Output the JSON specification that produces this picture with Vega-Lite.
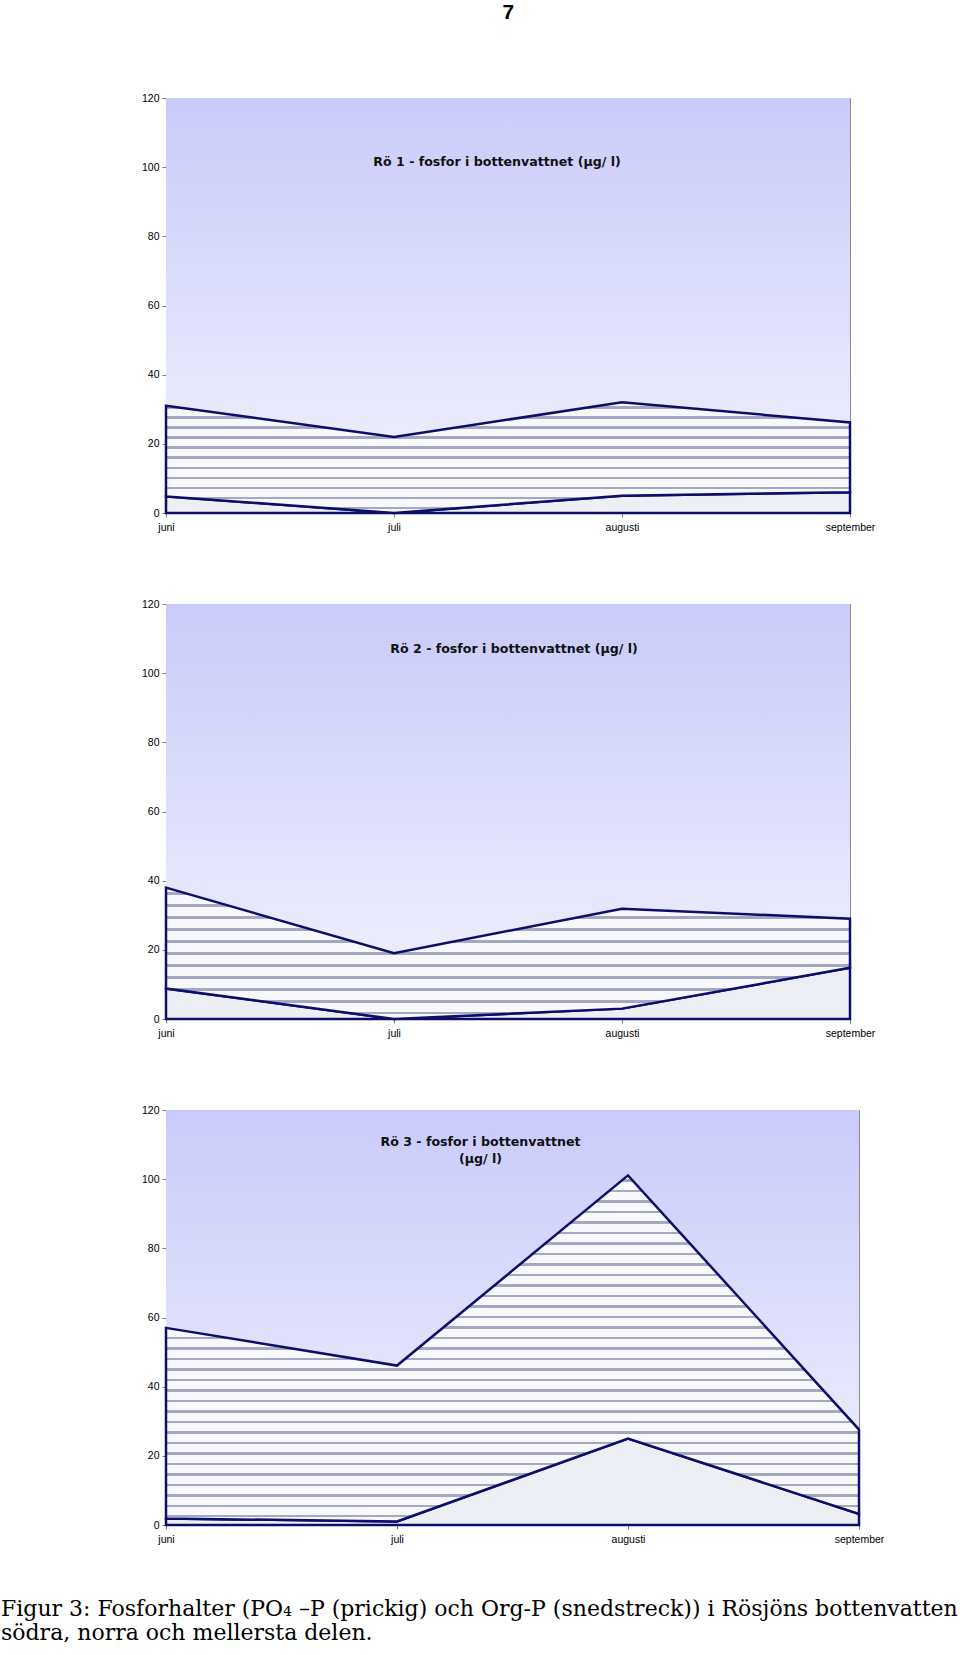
{
  "$schema": "https://vega.github.io/schema/vega-lite/v6.json",
  "padding": {"left": 0, "top": 1, "right": 0, "bottom": 0},
  "background": "white",
  "title": {"text": "7", "font": "Liberation Sans", "fontSize": 21, "fontWeight": "bold", "color": "#000000", "anchor": "middle", "offset": 70, "dx": 29},
  "datasets": {
    "ro1": [
      {"manad": "juni", "serie": "PO4-P", "halt": 4.8},
      {"manad": "juli", "serie": "PO4-P", "halt": 0},
      {"manad": "augusti", "serie": "PO4-P", "halt": 5.0},
      {"manad": "september", "serie": "PO4-P", "halt": 6.0},
      {"manad": "juni", "serie": "Org-P", "halt": 26.2},
      {"manad": "juli", "serie": "Org-P", "halt": 22.0},
      {"manad": "augusti", "serie": "Org-P", "halt": 27.0},
      {"manad": "september", "serie": "Org-P", "halt": 20.2}
    ],
    "ro2": [
      {"manad": "juni", "serie": "PO4-P", "halt": 8.8},
      {"manad": "juli", "serie": "PO4-P", "halt": 0},
      {"manad": "augusti", "serie": "PO4-P", "halt": 3.0},
      {"manad": "september", "serie": "PO4-P", "halt": 14.8},
      {"manad": "juni", "serie": "Org-P", "halt": 29.2},
      {"manad": "juli", "serie": "Org-P", "halt": 19.0},
      {"manad": "augusti", "serie": "Org-P", "halt": 28.9},
      {"manad": "september", "serie": "Org-P", "halt": 14.2}
    ],
    "ro3": [
      {"manad": "juni", "serie": "PO4-P", "halt": 1.9},
      {"manad": "juli", "serie": "PO4-P", "halt": 1.0},
      {"manad": "augusti", "serie": "PO4-P", "halt": 25.0},
      {"manad": "september", "serie": "PO4-P", "halt": 3.2},
      {"manad": "juni", "serie": "Org-P", "halt": 55.1},
      {"manad": "juli", "serie": "Org-P", "halt": 45.1},
      {"manad": "augusti", "serie": "Org-P", "halt": 76.1},
      {"manad": "september", "serie": "Org-P", "halt": 24.4}
    ]
  },
  "bounds": "flush",
  "spacing": 91,
  "vconcat": [
    {
      "width": 684,
      "height": 415,
      "layer": [
        {
          "data": {"values": [{}]},
          "mark": {"type": "rect", "fill": {"gradient": "linear", "x1": 0, "y1": 0, "x2": 0, "y2": 1, "stops": [{"offset": 0, "color": "#cacafb"}, {"offset": 1, "color": "#f3f3fc"}]}},
          "encoding": {}
        },
        {
          "data": {"name": "ro1"},
          "transform": [{"stack": "halt", "groupby": ["manad"], "sort": [{"field": "serie", "order": "descending"}], "as": ["lo", "hi"]}, {"filter": "datum.serie === 'PO4-P'"}],
          "mark": {"type": "area", "fill": "#eeeff5", "stroke": "#0d0d6b", "strokeWidth": 2.5, "strokeJoin": "miter"},
          "encoding": {
            "x": {"field": "manad", "type": "ordinal", "sort": ["juni", "juli", "augusti", "september"], "scale": {"type": "point", "padding": 0}, "axis": {"title": null, "labelAngle": 0}},
            "y": {"field": "hi", "type": "quantitative", "scale": {"domain": [0, 120], "nice": false}, "axis": {"title": null, "values": [0, 20, 40, 60, 80, 100, 120], "grid": false}},
            "y2": {"field": "lo"}
          }
        },
        {
          "data": {"name": "ro1"},
          "transform": [{"stack": "halt", "groupby": ["manad"], "sort": [{"field": "serie", "order": "descending"}], "as": ["lo", "hi"]}, {"filter": "datum.serie === 'Org-P'"}],
          "mark": {"type": "area", "stroke": "#0d0d6b", "strokeWidth": 2.5, "strokeJoin": "miter", "fill": {"gradient": "linear", "x1": 0, "y1": 0, "x2": 0, "y2": 1, "stops": [
            {"offset": 0, "color": "#f8f8fc"},
            {"offset": 0.0345, "color": "#f8f8fc"}, {"offset": 0.0345, "color": "#a6a8c2"}, {"offset": 0.0565, "color": "#a6a8c2"}, {"offset": 0.0565, "color": "#f8f8fc"},
            {"offset": 0.1254, "color": "#f8f8fc"}, {"offset": 0.1254, "color": "#a6a8c2"}, {"offset": 0.1474, "color": "#a6a8c2"}, {"offset": 0.1474, "color": "#f8f8fc"},
            {"offset": 0.2163, "color": "#f8f8fc"}, {"offset": 0.2163, "color": "#a6a8c2"}, {"offset": 0.2383, "color": "#a6a8c2"}, {"offset": 0.2383, "color": "#f8f8fc"},
            {"offset": 0.3072, "color": "#f8f8fc"}, {"offset": 0.3072, "color": "#a6a8c2"}, {"offset": 0.3292, "color": "#a6a8c2"}, {"offset": 0.3292, "color": "#f8f8fc"},
            {"offset": 0.3981, "color": "#f8f8fc"}, {"offset": 0.3981, "color": "#a6a8c2"}, {"offset": 0.4201, "color": "#a6a8c2"}, {"offset": 0.4201, "color": "#f8f8fc"},
            {"offset": 0.489, "color": "#f8f8fc"}, {"offset": 0.489, "color": "#a6a8c2"}, {"offset": 0.511, "color": "#a6a8c2"}, {"offset": 0.511, "color": "#f8f8fc"},
            {"offset": 0.5799, "color": "#f8f8fc"}, {"offset": 0.5799, "color": "#a6a8c2"}, {"offset": 0.6019, "color": "#a6a8c2"}, {"offset": 0.6019, "color": "#f8f8fc"},
            {"offset": 0.6708, "color": "#f8f8fc"}, {"offset": 0.6708, "color": "#a6a8c2"}, {"offset": 0.6928, "color": "#a6a8c2"}, {"offset": 0.6928, "color": "#f8f8fc"},
            {"offset": 0.7617, "color": "#f8f8fc"}, {"offset": 0.7617, "color": "#a6a8c2"}, {"offset": 0.7837, "color": "#a6a8c2"}, {"offset": 0.7837, "color": "#f8f8fc"},
            {"offset": 0.8526, "color": "#f8f8fc"}, {"offset": 0.8526, "color": "#a6a8c2"}, {"offset": 0.8746, "color": "#a6a8c2"}, {"offset": 0.8746, "color": "#f8f8fc"},
            {"offset": 0.9435, "color": "#f8f8fc"}, {"offset": 0.9435, "color": "#a6a8c2"}, {"offset": 0.9655, "color": "#a6a8c2"}, {"offset": 0.9655, "color": "#f8f8fc"},
            {"offset": 1, "color": "#f8f8fc"}]}},
          "encoding": {
            "x": {"field": "manad", "type": "ordinal", "sort": ["juni", "juli", "augusti", "september"], "scale": {"type": "point", "padding": 0}, "axis": {"title": null, "labelAngle": 0}},
            "y": {"field": "hi", "type": "quantitative", "scale": {"domain": [0, 120], "nice": false}, "axis": {"title": null, "values": [0, 20, 40, 60, 80, 100, 120], "grid": false}},
            "y2": {"field": "lo"}
          }
        },
        {
          "data": {"values": [{}]},
          "mark": {"type": "text", "font": "DejaVu Sans", "fontWeight": "bold", "fontSize": 12.6, "color": "#111111", "dx": -11, "baseline": "middle"},
          "encoding": {"y": {"datum": 101.6, "type": "quantitative"}, "text": {"value": "Rö 1 - fosfor i bottenvattnet (µg/ l)"}}
        }
      ]
    },
    {
      "width": 684,
      "height": 415,
      "layer": [
        {
          "data": {"values": [{}]},
          "mark": {"type": "rect", "fill": {"gradient": "linear", "x1": 0, "y1": 0, "x2": 0, "y2": 1, "stops": [{"offset": 0, "color": "#cacafb"}, {"offset": 1, "color": "#f3f3fc"}]}},
          "encoding": {}
        },
        {
          "data": {"name": "ro2"},
          "transform": [{"stack": "halt", "groupby": ["manad"], "sort": [{"field": "serie", "order": "descending"}], "as": ["lo", "hi"]}, {"filter": "datum.serie === 'PO4-P'"}],
          "mark": {"type": "area", "fill": "#eeeff5", "stroke": "#0d0d6b", "strokeWidth": 2.5, "strokeJoin": "miter"},
          "encoding": {
            "x": {"field": "manad", "type": "ordinal", "sort": ["juni", "juli", "augusti", "september"], "scale": {"type": "point", "padding": 0}, "axis": {"title": null, "labelAngle": 0}},
            "y": {"field": "hi", "type": "quantitative", "scale": {"domain": [0, 120], "nice": false}, "axis": {"title": null, "values": [0, 20, 40, 60, 80, 100, 120], "grid": false}},
            "y2": {"field": "lo"}
          }
        },
        {
          "data": {"name": "ro2"},
          "transform": [{"stack": "halt", "groupby": ["manad"], "sort": [{"field": "serie", "order": "descending"}], "as": ["lo", "hi"]}, {"filter": "datum.serie === 'Org-P'"}],
          "mark": {"type": "area", "stroke": "#0d0d6b", "strokeWidth": 2.5, "strokeJoin": "miter", "fill": {"gradient": "linear", "x1": 0, "y1": 0, "x2": 0, "y2": 1, "stops": [
            {"offset": 0, "color": "#f8f8fc"},
            {"offset": 0.0345, "color": "#f8f8fc"}, {"offset": 0.0345, "color": "#a6a8c2"}, {"offset": 0.0565, "color": "#a6a8c2"}, {"offset": 0.0565, "color": "#f8f8fc"},
            {"offset": 0.1254, "color": "#f8f8fc"}, {"offset": 0.1254, "color": "#a6a8c2"}, {"offset": 0.1474, "color": "#a6a8c2"}, {"offset": 0.1474, "color": "#f8f8fc"},
            {"offset": 0.2163, "color": "#f8f8fc"}, {"offset": 0.2163, "color": "#a6a8c2"}, {"offset": 0.2383, "color": "#a6a8c2"}, {"offset": 0.2383, "color": "#f8f8fc"},
            {"offset": 0.3072, "color": "#f8f8fc"}, {"offset": 0.3072, "color": "#a6a8c2"}, {"offset": 0.3292, "color": "#a6a8c2"}, {"offset": 0.3292, "color": "#f8f8fc"},
            {"offset": 0.3981, "color": "#f8f8fc"}, {"offset": 0.3981, "color": "#a6a8c2"}, {"offset": 0.4201, "color": "#a6a8c2"}, {"offset": 0.4201, "color": "#f8f8fc"},
            {"offset": 0.489, "color": "#f8f8fc"}, {"offset": 0.489, "color": "#a6a8c2"}, {"offset": 0.511, "color": "#a6a8c2"}, {"offset": 0.511, "color": "#f8f8fc"},
            {"offset": 0.5799, "color": "#f8f8fc"}, {"offset": 0.5799, "color": "#a6a8c2"}, {"offset": 0.6019, "color": "#a6a8c2"}, {"offset": 0.6019, "color": "#f8f8fc"},
            {"offset": 0.6708, "color": "#f8f8fc"}, {"offset": 0.6708, "color": "#a6a8c2"}, {"offset": 0.6928, "color": "#a6a8c2"}, {"offset": 0.6928, "color": "#f8f8fc"},
            {"offset": 0.7617, "color": "#f8f8fc"}, {"offset": 0.7617, "color": "#a6a8c2"}, {"offset": 0.7837, "color": "#a6a8c2"}, {"offset": 0.7837, "color": "#f8f8fc"},
            {"offset": 0.8526, "color": "#f8f8fc"}, {"offset": 0.8526, "color": "#a6a8c2"}, {"offset": 0.8746, "color": "#a6a8c2"}, {"offset": 0.8746, "color": "#f8f8fc"},
            {"offset": 0.9435, "color": "#f8f8fc"}, {"offset": 0.9435, "color": "#a6a8c2"}, {"offset": 0.9655, "color": "#a6a8c2"}, {"offset": 0.9655, "color": "#f8f8fc"},
            {"offset": 1, "color": "#f8f8fc"}]}},
          "encoding": {
            "x": {"field": "manad", "type": "ordinal", "sort": ["juni", "juli", "augusti", "september"], "scale": {"type": "point", "padding": 0}, "axis": {"title": null, "labelAngle": 0}},
            "y": {"field": "hi", "type": "quantitative", "scale": {"domain": [0, 120], "nice": false}, "axis": {"title": null, "values": [0, 20, 40, 60, 80, 100, 120], "grid": false}},
            "y2": {"field": "lo"}
          }
        },
        {
          "data": {"values": [{}]},
          "mark": {"type": "text", "font": "DejaVu Sans", "fontWeight": "bold", "fontSize": 12.6, "color": "#111111", "dx": 6, "baseline": "middle"},
          "encoding": {"y": {"datum": 107.0, "type": "quantitative"}, "text": {"value": "Rö 2 - fosfor i bottenvattnet (µg/ l)"}}
        }
      ]
    },
    {
      "width": 693,
      "height": 415,
      "title": {"text": ["Figur 3: Fosforhalter (PO₄ –P (prickig) och Org-P (snedstreck)) i Rösjöns bottenvatten", "södra, norra och mellersta delen."], "orient": "bottom", "anchor": "start", "frame": "group", "dx": -165, "offset": 54, "font": "DejaVu Serif", "fontSize": 22, "fontWeight": "normal", "color": "#000000", "lineHeight": 24},
      "layer": [
        {
          "data": {"values": [{}]},
          "mark": {"type": "rect", "fill": {"gradient": "linear", "x1": 0, "y1": 0, "x2": 0, "y2": 1, "stops": [{"offset": 0, "color": "#cacafb"}, {"offset": 1, "color": "#f3f3fc"}]}},
          "encoding": {}
        },
        {
          "data": {"name": "ro3"},
          "transform": [{"stack": "halt", "groupby": ["manad"], "sort": [{"field": "serie", "order": "descending"}], "as": ["lo", "hi"]}, {"filter": "datum.serie === 'PO4-P'"}],
          "mark": {"type": "area", "fill": "#eeeff5", "stroke": "#0d0d6b", "strokeWidth": 2.5, "strokeJoin": "miter"},
          "encoding": {
            "x": {"field": "manad", "type": "ordinal", "sort": ["juni", "juli", "augusti", "september"], "scale": {"type": "point", "padding": 0}, "axis": {"title": null, "labelAngle": 0}},
            "y": {"field": "hi", "type": "quantitative", "scale": {"domain": [0, 120], "nice": false}, "axis": {"title": null, "values": [0, 20, 40, 60, 80, 100, 120], "grid": false}},
            "y2": {"field": "lo"}
          }
        },
        {
          "data": {"name": "ro3"},
          "transform": [{"stack": "halt", "groupby": ["manad"], "sort": [{"field": "serie", "order": "descending"}], "as": ["lo", "hi"]}, {"filter": "datum.serie === 'Org-P'"}],
          "mark": {"type": "area", "stroke": "#0d0d6b", "strokeWidth": 2.5, "strokeJoin": "miter", "fill": {"gradient": "linear", "x1": 0, "y1": 0, "x2": 0, "y2": 1, "stops": [
            {"offset": 0, "color": "#f8f8fc"},
            {"offset": 0.0117, "color": "#f8f8fc"}, {"offset": 0.0117, "color": "#a6a8c2"}, {"offset": 0.0187, "color": "#a6a8c2"}, {"offset": 0.0187, "color": "#f8f8fc"},
            {"offset": 0.0420, "color": "#f8f8fc"}, {"offset": 0.0420, "color": "#a6a8c2"}, {"offset": 0.0490, "color": "#a6a8c2"}, {"offset": 0.0490, "color": "#f8f8fc"},
            {"offset": 0.0723, "color": "#f8f8fc"}, {"offset": 0.0723, "color": "#a6a8c2"}, {"offset": 0.0793, "color": "#a6a8c2"}, {"offset": 0.0793, "color": "#f8f8fc"},
            {"offset": 0.1026, "color": "#f8f8fc"}, {"offset": 0.1026, "color": "#a6a8c2"}, {"offset": 0.1096, "color": "#a6a8c2"}, {"offset": 0.1096, "color": "#f8f8fc"},
            {"offset": 0.1329, "color": "#f8f8fc"}, {"offset": 0.1329, "color": "#a6a8c2"}, {"offset": 0.1399, "color": "#a6a8c2"}, {"offset": 0.1399, "color": "#f8f8fc"},
            {"offset": 0.1632, "color": "#f8f8fc"}, {"offset": 0.1632, "color": "#a6a8c2"}, {"offset": 0.1702, "color": "#a6a8c2"}, {"offset": 0.1702, "color": "#f8f8fc"},
            {"offset": 0.1935, "color": "#f8f8fc"}, {"offset": 0.1935, "color": "#a6a8c2"}, {"offset": 0.2005, "color": "#a6a8c2"}, {"offset": 0.2005, "color": "#f8f8fc"},
            {"offset": 0.2238, "color": "#f8f8fc"}, {"offset": 0.2238, "color": "#a6a8c2"}, {"offset": 0.2308, "color": "#a6a8c2"}, {"offset": 0.2308, "color": "#f8f8fc"},
            {"offset": 0.2541, "color": "#f8f8fc"}, {"offset": 0.2541, "color": "#a6a8c2"}, {"offset": 0.2611, "color": "#a6a8c2"}, {"offset": 0.2611, "color": "#f8f8fc"},
            {"offset": 0.2844, "color": "#f8f8fc"}, {"offset": 0.2844, "color": "#a6a8c2"}, {"offset": 0.2914, "color": "#a6a8c2"}, {"offset": 0.2914, "color": "#f8f8fc"},
            {"offset": 0.3147, "color": "#f8f8fc"}, {"offset": 0.3147, "color": "#a6a8c2"}, {"offset": 0.3217, "color": "#a6a8c2"}, {"offset": 0.3217, "color": "#f8f8fc"},
            {"offset": 0.3450, "color": "#f8f8fc"}, {"offset": 0.3450, "color": "#a6a8c2"}, {"offset": 0.3520, "color": "#a6a8c2"}, {"offset": 0.3520, "color": "#f8f8fc"},
            {"offset": 0.3753, "color": "#f8f8fc"}, {"offset": 0.3753, "color": "#a6a8c2"}, {"offset": 0.3823, "color": "#a6a8c2"}, {"offset": 0.3823, "color": "#f8f8fc"},
            {"offset": 0.4056, "color": "#f8f8fc"}, {"offset": 0.4056, "color": "#a6a8c2"}, {"offset": 0.4126, "color": "#a6a8c2"}, {"offset": 0.4126, "color": "#f8f8fc"},
            {"offset": 0.4359, "color": "#f8f8fc"}, {"offset": 0.4359, "color": "#a6a8c2"}, {"offset": 0.4429, "color": "#a6a8c2"}, {"offset": 0.4429, "color": "#f8f8fc"},
            {"offset": 0.4662, "color": "#f8f8fc"}, {"offset": 0.4662, "color": "#a6a8c2"}, {"offset": 0.4732, "color": "#a6a8c2"}, {"offset": 0.4732, "color": "#f8f8fc"},
            {"offset": 0.4965, "color": "#f8f8fc"}, {"offset": 0.4965, "color": "#a6a8c2"}, {"offset": 0.5035, "color": "#a6a8c2"}, {"offset": 0.5035, "color": "#f8f8fc"},
            {"offset": 0.5268, "color": "#f8f8fc"}, {"offset": 0.5268, "color": "#a6a8c2"}, {"offset": 0.5338, "color": "#a6a8c2"}, {"offset": 0.5338, "color": "#f8f8fc"},
            {"offset": 0.5571, "color": "#f8f8fc"}, {"offset": 0.5571, "color": "#a6a8c2"}, {"offset": 0.5641, "color": "#a6a8c2"}, {"offset": 0.5641, "color": "#f8f8fc"},
            {"offset": 0.5874, "color": "#f8f8fc"}, {"offset": 0.5874, "color": "#a6a8c2"}, {"offset": 0.5944, "color": "#a6a8c2"}, {"offset": 0.5944, "color": "#f8f8fc"},
            {"offset": 0.6177, "color": "#f8f8fc"}, {"offset": 0.6177, "color": "#a6a8c2"}, {"offset": 0.6247, "color": "#a6a8c2"}, {"offset": 0.6247, "color": "#f8f8fc"},
            {"offset": 0.6480, "color": "#f8f8fc"}, {"offset": 0.6480, "color": "#a6a8c2"}, {"offset": 0.6550, "color": "#a6a8c2"}, {"offset": 0.6550, "color": "#f8f8fc"},
            {"offset": 0.6783, "color": "#f8f8fc"}, {"offset": 0.6783, "color": "#a6a8c2"}, {"offset": 0.6853, "color": "#a6a8c2"}, {"offset": 0.6853, "color": "#f8f8fc"},
            {"offset": 0.7086, "color": "#f8f8fc"}, {"offset": 0.7086, "color": "#a6a8c2"}, {"offset": 0.7156, "color": "#a6a8c2"}, {"offset": 0.7156, "color": "#f8f8fc"},
            {"offset": 0.7389, "color": "#f8f8fc"}, {"offset": 0.7389, "color": "#a6a8c2"}, {"offset": 0.7459, "color": "#a6a8c2"}, {"offset": 0.7459, "color": "#f8f8fc"},
            {"offset": 0.7692, "color": "#f8f8fc"}, {"offset": 0.7692, "color": "#a6a8c2"}, {"offset": 0.7762, "color": "#a6a8c2"}, {"offset": 0.7762, "color": "#f8f8fc"},
            {"offset": 0.7995, "color": "#f8f8fc"}, {"offset": 0.7995, "color": "#a6a8c2"}, {"offset": 0.8065, "color": "#a6a8c2"}, {"offset": 0.8065, "color": "#f8f8fc"},
            {"offset": 0.8298, "color": "#f8f8fc"}, {"offset": 0.8298, "color": "#a6a8c2"}, {"offset": 0.8368, "color": "#a6a8c2"}, {"offset": 0.8368, "color": "#f8f8fc"},
            {"offset": 0.8601, "color": "#f8f8fc"}, {"offset": 0.8601, "color": "#a6a8c2"}, {"offset": 0.8671, "color": "#a6a8c2"}, {"offset": 0.8671, "color": "#f8f8fc"},
            {"offset": 0.8904, "color": "#f8f8fc"}, {"offset": 0.8904, "color": "#a6a8c2"}, {"offset": 0.8974, "color": "#a6a8c2"}, {"offset": 0.8974, "color": "#f8f8fc"},
            {"offset": 0.9207, "color": "#f8f8fc"}, {"offset": 0.9207, "color": "#a6a8c2"}, {"offset": 0.9277, "color": "#a6a8c2"}, {"offset": 0.9277, "color": "#f8f8fc"},
            {"offset": 0.9510, "color": "#f8f8fc"}, {"offset": 0.9510, "color": "#a6a8c2"}, {"offset": 0.9580, "color": "#a6a8c2"}, {"offset": 0.9580, "color": "#f8f8fc"},
            {"offset": 0.9813, "color": "#f8f8fc"}, {"offset": 0.9813, "color": "#a6a8c2"}, {"offset": 0.9883, "color": "#a6a8c2"}, {"offset": 0.9883, "color": "#f8f8fc"},
            {"offset": 1, "color": "#f8f8fc"}]}},
          "encoding": {
            "x": {"field": "manad", "type": "ordinal", "sort": ["juni", "juli", "augusti", "september"], "scale": {"type": "point", "padding": 0}, "axis": {"title": null, "labelAngle": 0}},
            "y": {"field": "hi", "type": "quantitative", "scale": {"domain": [0, 120], "nice": false}, "axis": {"title": null, "values": [0, 20, 40, 60, 80, 100, 120], "grid": false}},
            "y2": {"field": "lo"}
          }
        },
        {
          "data": {"values": [{}]},
          "mark": {"type": "text", "font": "DejaVu Sans", "fontWeight": "bold", "fontSize": 12.6, "color": "#111111", "dx": -32, "baseline": "middle", "lineHeight": 17},
          "encoding": {"y": {"datum": 110.7, "type": "quantitative"}, "text": {"value": ["Rö 3 - fosfor i bottenvattnet", "(µg/ l)"]}}
        }
      ]
    }
  ],
  "config": {
    "view": {"stroke": "#8a8a8a", "strokeWidth": 1},
    "axis": {"labelFont": "Liberation Sans", "labelFontSize": 10.5, "labelColor": "#000000", "domainColor": "#7a7a7a", "tickColor": "#7a7a7a", "tickSize": 4, "domainWidth": 1, "labelPadding": 3},
    "axisX": {"labelPadding": 5}
  }
}
